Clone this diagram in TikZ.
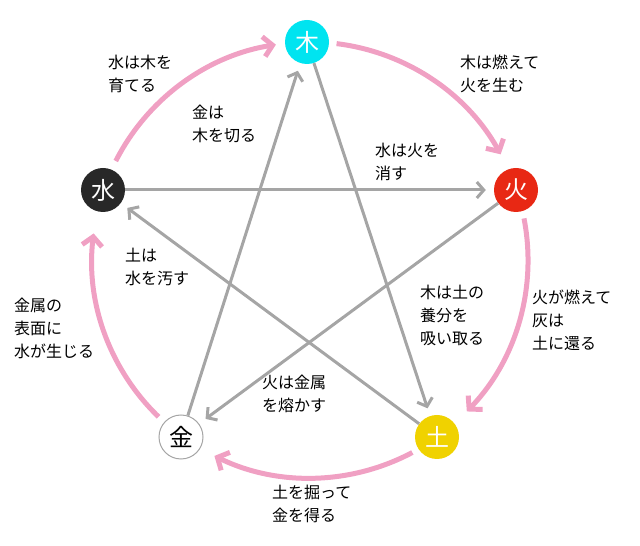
\documentclass[tikz,border=0pt]{standalone}
\usepackage{fontspec}
\newfontfamily\cjk{Noto Sans CJK JP}
\usetikzlibrary{arrows.meta}
\definecolor{pinkline}{RGB}{240,160,195}
\definecolor{greyline}{RGB}{165,165,165}
\definecolor{woodc}{RGB}{0,228,240}
\definecolor{firec}{RGB}{232,40,20}
\definecolor{earthc}{RGB}{240,210,0}
\definecolor{waterc}{RGB}{40,40,40}
\begin{document}
\begin{tikzpicture}[x=1pt,y=1pt,
  element/.style={circle, minimum size=44pt, inner sep=0pt, font=\cjk\fontsize{24}{24}\selectfont, text=white},
  label text/.style={anchor=north west, align=left, inner sep=0pt, font=\cjk\fontsize{16}{23}\selectfont},
  pinkarc/.style={pinkline, line width=5pt, -{Straight Barb[length=9pt,width=20pt,line width=5pt]}},
  greyarrow/.style={greyline, line width=3pt, shorten >=8pt, -{Straight Barb[length=7pt,width=16pt,line width=3pt]}}]
  \useasboundingbox (0,0) rectangle (640,546);
  \coordinate (c) at (310,286);

  % elements
  \node[element, fill=woodc] (wood) at (307,504) {木};
  \node[element, fill=firec] (fire) at (516,356) {火};
  \node[element, fill=earthc] (earth) at (437,109) {土};
  \node[element, fill=white, draw=greyline, line width=1pt, text=black] (metal) at (181,109) {金};
  \node[element, fill=waterc] (water) at (103,356) {水};

  % generating cycle
  \draw[pinkarc] (c) ++(83:218) arc[start angle=83, end angle=29, radius=218];
  \draw[pinkarc] (c) ++(11:218) arc[start angle=11, end angle=-44, radius=218];
  \draw[pinkarc] (c) ++(-62:218) arc[start angle=-62, end angle=-116, radius=218];
  \draw[pinkarc] (c) ++(-134:218) arc[start angle=-134, end angle=-187, radius=218];
  \draw[pinkarc] (c) ++(153:218) arc[start angle=153, end angle=99, radius=218];

  % overcoming cycle
  \draw[greyarrow] (wood) -- (earth);
  \draw[greyarrow] (earth) -- (water);
  \draw[greyarrow] (water) -- (fire);
  \draw[greyarrow] (fire) -- (metal);
  \draw[greyarrow] (metal) -- (wood);

  % labels
  \node[label text] (l1) at (108,491) {水は木を\\育てる};
  \node[label text] (l2) at (460,491) {木は燃えて\\火を生む};
  \node[label text] (l3) at (192,441) {金は\\木を切る};
  \node[label text] (l4) at (375,403) {水は火を\\消す};
  \node[label text] (l5) at (125,298) {土は\\水を汚す};
  \node[label text] (l6) at (420,261) {木は土の\\養分を\\吸い取る};
  \node[label text] (l7) at (532,256) {火が燃えて\\灰は\\土に還る};
  \node[label text] (l8) at (14,248) {金属の\\表面に\\水が生じる};
  \node[label text] (l9) at (262,171) {火は金属\\を熔かす};
  \node[label text] (l10) at (272,61) {土を掘って\\金を得る};
\end{tikzpicture}
\end{document}
